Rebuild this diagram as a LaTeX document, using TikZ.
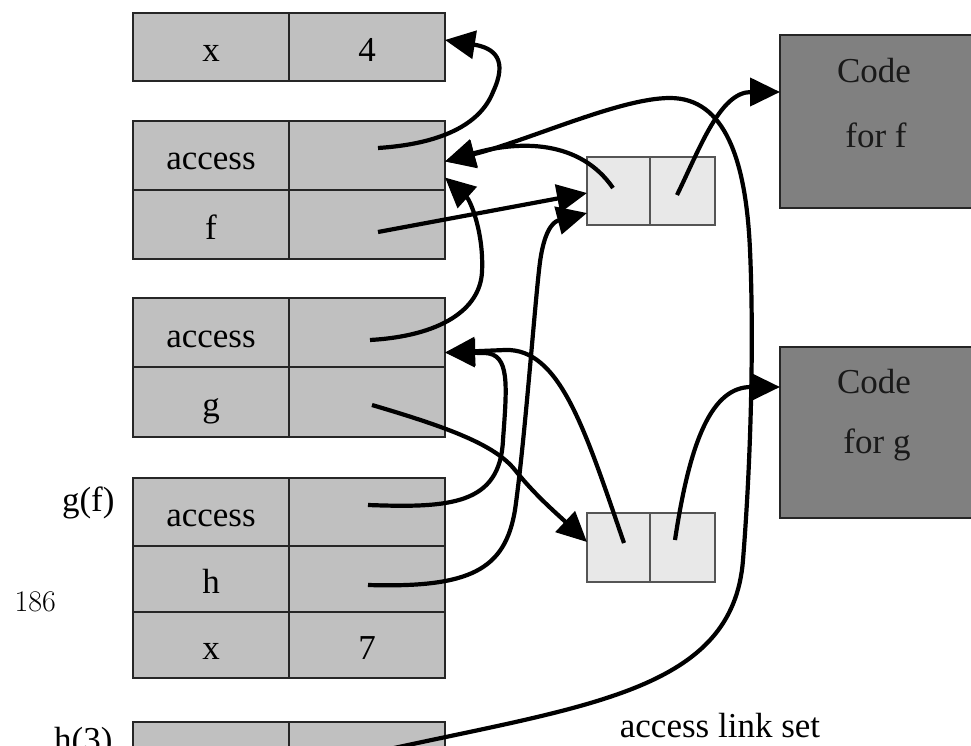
\documentclass[tikz,border=0pt]{standalone}
\usepackage{fontspec}
\newfontfamily\tnr{Liberation Serif}
\usetikzlibrary{arrows.meta,calc}
\definecolor{stackgray}{RGB}{192,192,192}
\definecolor{closfill}{RGB}{232,232,232}
\definecolor{closline}{RGB}{85,85,85}
\definecolor{codefill}{RGB}{128,128,128}
\begin{document}
\begin{tikzpicture}[x=1pt,y=-1pt,
  bigfont/.style={font=\fontsize{35}{42}\selectfont\tnr},
  cell/.style={draw=black!85, line width=2.5pt, fill=stackgray,
    minimum width=156pt, inner sep=0pt, outer sep=0pt, bigfont,
    text height=29pt, text depth=0pt},
  clos/.style={draw=closline, line width=2.5pt, fill=closfill,
    minimum height=68pt, inner sep=0pt, outer sep=0pt},
  codebox/.style={draw=black!85, line width=2.5pt, fill=codefill,
    minimum width=200pt, inner sep=0pt, outer sep=0pt},
  codetext/.style={bigfont, anchor=base, text=black!90},
  sidelabel/.style={bigfont, anchor=base east},
  link/.style={line width=4.2pt, black, -{Triangle[length=30pt,width=28pt]}}]

\useasboundingbox (0,0) rectangle (971,746);
\clip (0,0) rectangle (971,746);

% activation records on the stack
\node[cell, minimum height=68pt] (r0a) at (211,47) {x};
\node[cell, minimum height=68pt] (r0b) at (367,47) {4};

\node[cell, minimum height=69pt] (a1a) at (211,155.5) {access};
\node[cell, minimum height=69pt] (a1b) at (367,155.5) {};
\node[cell, minimum height=69pt] (a2a) at (211,224.5) {f};
\node[cell, minimum height=69pt] (a2b) at (367,224.5) {};

\node[cell, minimum height=69pt] (b1a) at (211,332.5) {access};
\node[cell, minimum height=69pt] (b1b) at (367,332.5) {};
\node[cell, minimum height=70pt] (b2a) at (211,402) {g};
\node[cell, minimum height=70pt] (b2b) at (367,402) {};

\node[cell, minimum height=68pt] (c1a) at (211,512) {access};
\node[cell, minimum height=68pt] (c1b) at (367,512) {};
\node[cell, minimum height=66pt] (c2a) at (211,579) {h};
\node[cell, minimum height=66pt] (c2b) at (367,579) {};
\node[cell, minimum height=66pt] (c3a) at (211,645) {x};
\node[cell, minimum height=66pt] (c3b) at (367,645) {7};

\node[cell, minimum height=70pt] (d1a) at (211,757) {};
\node[cell, minimum height=70pt] (d1b) at (367,757) {};

% labels beside the stack
\node[sidelabel] (gflabel) at (118,511) {g(f)};
\node[sidelabel] (h3label) at (116,751) {h(3)};
\node[anchor=base west, font=\fontsize{30}{36}\selectfont] (pagenum) at (11,611) {186};

% closures
\node[clos, minimum width=63pt] (k1a) at (618.5,191) {};
\node[clos, minimum width=65pt] (k1b) at (682.5,191) {};
\node[clos, minimum width=63pt, minimum height=69pt] (k2a) at (618.5,547.5) {};
\node[clos, minimum width=65pt, minimum height=69pt] (k2b) at (682.5,547.5) {};

% code blocks
\node[codebox, minimum height=173pt] (codef) at (880,121.5) {};
\node[codebox, minimum height=171pt] (codeg) at (880,432.5) {};
\node[codetext] (cf1) at (874,83) {Code};
\node[codetext] (cf2) at (876,148) {for f};
\node[codetext] (cg1) at (874,393) {Code};
\node[codetext] (cg2) at (877,453) {for g};

\node[bigfont, anchor=base] (caption) at (720,737) {access link set};

% pointer origins inside cells
\coordinate (p1)  at ($(a1b.center)+(11,-7.5)$);
\coordinate (p2)  at ($(a2b.center)+(11,7.5)$);
\coordinate (p3)  at ($(k1a.center)+(-5.5,-3)$);
\coordinate (p4)  at ($(b1b.center)+(3,7.5)$);
\coordinate (p5)  at ($(k1b.center)+(-5.5,4)$);
\coordinate (p6)  at ($(b2b.center)+(5,3)$);
\coordinate (p7)  at ($(k2a.center)+(5.5,-4.5)$);
\coordinate (p8)  at ($(c1b.center)+(1,-7)$);
\coordinate (p9)  at ($(c2b.center)+(1,6)$);
\coordinate (p10) at ($(k2b.center)+(-7.5,-7.5)$);
\coordinate (p11) at ($(d1b.center)+(18,-7)$);

% arrow targets on box edges
\coordinate (t1)  at ($(r0b.east)+(0,-7)$);
\coordinate (t2)  at ($(k1a.west)+(0,2)$);
\coordinate (t3)  at ($(a1b.east)+(0,6)$);
\coordinate (t4)  at ($(a1b.east)+(0,22)$);
\coordinate (t5)  at ($(codef.west)+(0,-29.5)$);
\coordinate (t6)  at ($(k2a.west)+(0,-5.5)$);
\coordinate (t7)  at ($(b1b.east)+(0,20)$);
\coordinate (t9)  at ($(k1a.west)+(0,22)$);
\coordinate (t10) at ($(codeg.west)+(0,-45.5)$);

% links
\draw[link] (p1) .. controls (440,144) and (480,125) .. (493,92)
                 .. controls (508,60) and (495,48) .. (t1);
\draw[link] (p2) -- (t2);
\draw[link] (p3) .. controls (580,140) and (520,140) .. (t3);
\draw[link] (p4) .. controls (440,336) and (480,310) .. (482,272)
                 .. controls (484,232) and (470,200) .. (t4);
\draw[link] (p5) .. controls (700,148) and (720,92) .. (t5);
\draw[link] (p6) .. controls (450,428) and (495,445) .. (515,470)
                 .. controls (535,495) and (555,512) .. (t6);
\draw[link] (p7) .. controls (585,430) and (560,348) .. (505,350) -- (t7);
\draw[link] (p8) .. controls (450,508) and (500,505) .. (503,440)
                 .. controls (507,385) and (510,354) .. (485,353) -- (t7);
\draw[link] (p9) .. controls (470,588) and (505,570) .. (515,510)
                 .. controls (525,440) and (535,300) .. (540,262)
                 .. controls (545,225) and (556,221) .. (t9);
\draw[link] (p10) .. controls (690,440) and (712,387) .. (t10);
\draw[link] (p11) .. controls (590,705) and (733,690) .. (743,560)
                  .. controls (751,460) and (754,340) .. (750,250)
                  .. controls (746,160) and (725,98) .. (670,98)
                  .. controls (620,98) and (530,140) .. (t3);
\end{tikzpicture}
\end{document}
